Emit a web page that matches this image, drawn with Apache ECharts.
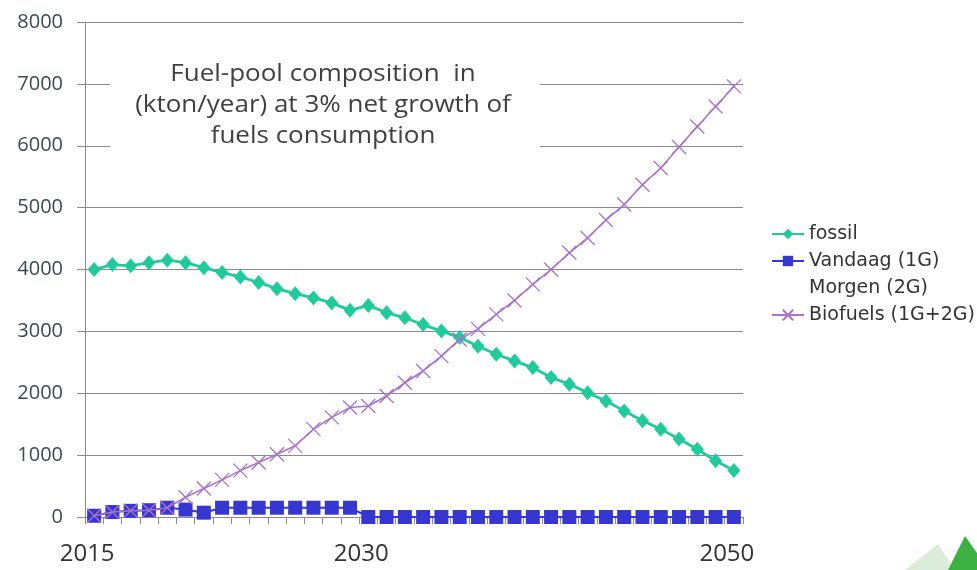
<!DOCTYPE html>
<html>
<head>
<meta charset="utf-8">
<script src="https://cdn.jsdelivr.net/npm/echarts@6/dist/echarts.min.js"></script>
<style>
html,body{margin:0;padding:0;background:#fff;}
#chart{width:977px;height:570px;}
</style>
</head>
<body>
<div id="chart"></div>
<script>
var years = [];
for (var y = 2015; y <= 2050; y++) years.push(String(y));
var shownYearLabels = ['2015', '2030', '2050'];
var yTicks = [0, 1000, 2000, 3000, 4000, 5000, 6000, 7000, 8000];

var fossil = [4000, 4080, 4060, 4110, 4150, 4110, 4030, 3950, 3880, 3790, 3690, 3610,
              3540, 3460, 3340, 3420, 3300, 3220, 3110, 3005, 2900, 2760, 2630, 2520,
              2415, 2255, 2145, 2010, 1875, 1715, 1555, 1420, 1260, 1095, 910, 750];
var vandaag = [20, 80, 100, 110, 150, 120, 70, 150, 150, 150, 150, 150,
               150, 150, 150, 0, 0, 0, 0, 0, 0, 0, 0, 0,
               0, 0, 0, 0, 0, 0, 0, 0, 0, 0, 0, 0];
var morgen = [];
var biofuels = [20, 80, 100, 110, 150, 320, 460, 600, 750, 880, 1015, 1150,
                1420, 1610, 1770, 1795, 1955, 2170, 2360, 2600, 2870, 3040, 3275, 3500,
                3760, 4000, 4270, 4510, 4800, 5050, 5370, 5640, 5980, 6310, 6635, 6960];

var seriesNames = ['fossil', 'Vandaag (1G)', 'Morgen (2G)', 'Biofuels (1G+2G)'];
var titleText = 'Fuel-pool composition  in\n(kton/year) at 3% net growth of\nfuels consumption';

var chart = echarts.init(document.getElementById('chart'), null, {renderer: 'canvas'});
var crossPath = 'path://M0,0L10,10M10,0L0,10';

chart.setOption({
  animation: false,
  backgroundColor: '#ffffff',
  grid: {left: 85, right: 234, top: 22, bottom: 53, containLabel: false},
  legend: {
    orient: 'vertical',
    left: 766,
    top: 218,
    itemGap: 5,
    itemWidth: 32,
    itemHeight: 13,
    textStyle: {fontFamily: 'DejaVu Sans, sans-serif', fontSize: 19, color: '#333', lineHeight: 22},
    data: [
      {name: seriesNames[0]},
      {name: seriesNames[1]},
      {name: seriesNames[2], icon: 'none'},
      {name: seriesNames[3]}
    ]
  },
  xAxis: {
    type: 'category',
    data: years,
    boundaryGap: true,
    axisLine: {lineStyle: {color: '#8a8a8a', width: 1}},
    axisTick: {show: true, interval: 0, length: 7, lineStyle: {color: '#8a8a8a'}},
    axisLabel: {
      interval: 0,
      margin: 25,
      fontSize: 24,
      padding: [0, 14, 0, 0],
      fontFamily: 'Open Sans, Liberation Sans, sans-serif',
      color: '#333',
      formatter: function (v) { return shownYearLabels.indexOf(v) >= 0 ? v : ''; }
    },
    splitLine: {show: false}
  },
  yAxis: {
    type: 'value',
    min: yTicks[0],
    max: yTicks[yTicks.length - 1],
    interval: yTicks[1] - yTicks[0],
    axisLine: {show: true, lineStyle: {color: '#8a8a8a', width: 1}},
    axisTick: {show: true, length: 8, lineStyle: {color: '#8a8a8a'}},
    axisLabel: {
      fontSize: 20, margin: 22, color: '#3a4a50',
      fontFamily: 'Open Sans, Liberation Sans, sans-serif',
      formatter: function (v) { return String(v); }
    },
    splitLine: {show: true, lineStyle: {color: '#8a8a8a', width: 1}}
  },
  series: [
    {
      name: seriesNames[0],
      type: 'line',
      data: fossil,
      symbol: 'diamond',
      symbolSize: [13, 15],
      showAllSymbol: true,
      lineStyle: {color: '#1fcb9b', width: 2.8},
      itemStyle: {color: '#1fcb9b'},
      z: 3
    },
    {
      name: seriesNames[1],
      type: 'line',
      data: vandaag,
      symbol: 'rect',
      symbolSize: 14,
      showAllSymbol: true,
      lineStyle: {color: '#3636d0', width: 2},
      itemStyle: {color: '#3636d0'},
      z: 2
    },
    {
      name: seriesNames[2],
      type: 'line',
      data: morgen,
      symbol: 'none',
      lineStyle: {color: 'rgba(0,0,0,0)'},
      itemStyle: {color: 'rgba(0,0,0,0)'}
    },
    {
      name: seriesNames[3],
      type: 'line',
      data: biofuels,
      symbol: crossPath,
      symbolSize: 14,
      showAllSymbol: true,
      lineStyle: {color: '#a873c9', width: 1.6},
      itemStyle: {color: 'rgba(0,0,0,0)', borderColor: '#a873c9', borderWidth: 1.3},
      z: 4
    }
  ],
  graphic: [
    {
      type: 'rect',
      shape: {x: 110, y: 46, width: 430, height: 132},
      style: {fill: '#ffffff'},
      z: 50
    },
    {
      type: 'text',
      x: 323,
      y: 59,
      scaleX: 1.13,
      z: 51,
      style: {
        text: titleText,
        align: 'center',
        verticalAlign: 'top',
        fill: '#404040',
        font: '23px "Open Sans", "Liberation Sans", sans-serif',
        lineHeight: 31
      }
    },
    {
      type: 'polygon',
      shape: {points: [[948, 570], [965, 536], [977, 553], [977, 570]]},
      style: {fill: '#3cb043'},
      z: 5
    },
    {
      type: 'polygon',
      shape: {points: [[905, 570], [938, 544], [955, 570]]},
      style: {fill: '#dcecdb'},
      z: 4
    }
  ]
});
</script>
</body>
</html>
